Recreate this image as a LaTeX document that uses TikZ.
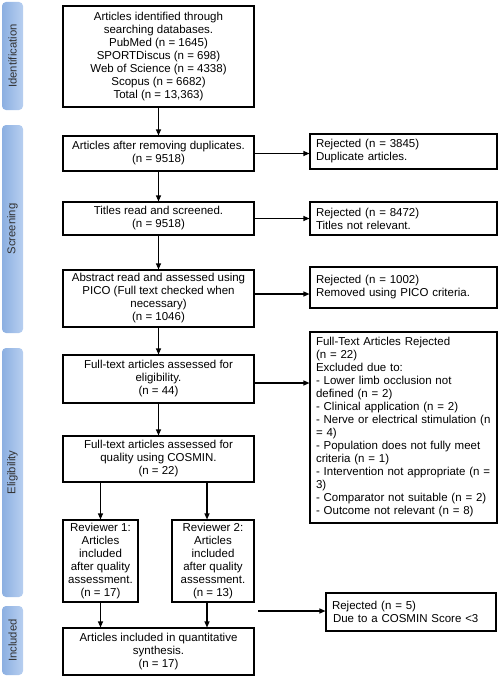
\documentclass[tikz,border=0pt]{standalone}
\usepackage{fontspec}
\setmainfont{Liberation Sans}
\usetikzlibrary{arrows.meta}
\definecolor{bartop}{HTML}{B7CFF0}
\definecolor{barbot}{HTML}{8CAFE1}
\definecolor{bartext}{HTML}{333333}
\newcommand{\fsmain}{\fontsize{11.5}{13}\selectfont}
\newcommand{\fsside}{\fontsize{11.3}{13}\selectfont}
\tikzset{
  mbox/.style={draw, line width=1.1pt, align=center, minimum width=191pt, inner sep=1pt, font=\fsmain},
  rbox/.style={draw, line width=1.1pt, align=left, minimum width=187pt, text width=175pt, inner xsep=6pt, inner ysep=1pt, font=\fsmain},
  sidebar/.style={rotate=90, rounded corners=4pt, left color=barbot, right color=bartop, minimum height=21pt, inner sep=0pt, text=bartext, font=\fsside},
  arr/.style={line width=1.1pt, -{Triangle[length=6pt,width=5pt]}}
}
\begin{document}
\begin{tikzpicture}[x=1pt,y=-1pt]
\useasboundingbox (0,0) rectangle (498,677);
% side bars
\node[sidebar, minimum width=108pt] (sid) at (12.5,56) {Identification};
\node[sidebar, minimum width=208pt] (ssc) at (12.5,229) {Screening};
\node[sidebar, minimum width=249pt] (sel) at (12.5,472.5) {Eligibility};
\node[sidebar, minimum width=69pt] (sin) at (12.5,640.5) {Included};
% main column
\node[mbox, minimum height=101pt] (b1) at (158.5,56.5) {Articles identified through\\searching databases.\\PubMed (n = 1645)\\SPORTDiscus (n = 698)\\Web of Science (n = 4338)\\Scopus (n = 6682)\\Total (n = 13,363)};
\node[mbox, minimum height=35pt] (b2) at (158.5,153.5) {Articles after removing duplicates.\\(n = 9518)};
\node[mbox, minimum height=33pt] (b3) at (158.5,218.5) {Titles read and screened.\\(n = 9518)};
\node[mbox, minimum height=57pt] (b4) at (158.5,298.5) {Abstract read and assessed using\\PICO (Full text checked when\\necessary)\\(n = 1046)};
\node[mbox, minimum height=48pt] (b5) at (158.5,379) {Full-text articles assessed for\\eligibility.\\(n = 44)};
\node[mbox, minimum height=46pt] (b6) at (158.5,459) {Full-text articles assessed for\\quality using COSMIN.\\(n = 22)};
\node[mbox, minimum width=75pt, minimum height=82pt] (r1) at (100.5,561) {Reviewer 1:\\Articles\\included\\after quality\\assessment.\\(n = 17)};
\node[mbox, minimum width=82pt, minimum height=82pt] (r2) at (213,561) {Reviewer 2:\\Articles\\included\\after quality\\assessment.\\(n = 13)};
\node[mbox, minimum height=47pt] (b7) at (158.5,651.5) {Articles included in quantitative\\synthesis.\\(n = 17)};
% right column
\node[rbox, minimum height=35pt] (rj1) at (403.5,151.5) {Rejected (n = 3845)\\Duplicate articles.};
\node[rbox, minimum height=33pt] (rj2) at (403.5,218.5) {Rejected (n = 8472)\\Titles not relevant.};
\node[rbox, minimum height=41pt] (rj3) at (403.5,287.5) {Rejected (n = 1002)\\Removed using PICO criteria.};
\node[rbox, minimum height=191pt] (rj4) at (403.5,427.5) {Full-Text Articles Rejected\\(n = 22)\\Excluded due to:\\- Lower limb occlusion not\\defined (n = 2)\\- Clinical application (n = 2)\\- Nerve or electrical stimulation (n\\= 4)\\- Population does not fully meet\\criteria (n = 1)\\- Intervention not appropriate (n =\\3)\\- Comparator not suitable (n = 2)\\- Outcome not relevant (n = 8)};
\node[rbox, minimum width=170pt, text width=158pt, inner xsep=6pt, minimum height=38pt] (rj5) at (411,612) {Rejected (n = 5)\\\hspace{1pt}Due to a COSMIN Score <3};
\coordinate (c5) at (258,611);
% vertical arrows
\draw[arr] (b1) -- (b2);
\draw[arr] (b2) -- (b3);
\draw[arr] (b3) -- (b4);
\draw[arr] (b4) -- (b5);
\draw[arr] (b5) -- (b6);
\draw[arr] (b6.south -| r1.north) -- (r1.north);
\draw[arr] ([xshift=-6pt]b6.south -| r2.north) -- ([xshift=-6pt]r2.north);
\draw[arr] (r1.south) -- (r1.south |- b7.north);
\draw[arr] ([xshift=-6pt]r2.south) -- ([xshift=-6pt]r2.south |- b7.north);
% horizontal arrows
\draw[arr] (b2.east) -- (b2.east -| rj1.west);
\draw[arr] (b3.east) -- (b3.east -| rj2.west);
\draw[arr] ([yshift=4.5pt]b4.east) -- ([yshift=4.5pt]b4.east -| rj3.west);
\draw[arr] ([yshift=-4pt]b5.east) -- ([yshift=-4pt]b5.east -| rj4.west);
\draw[arr] (c5) -- (c5 -| rj5.west);
\end{tikzpicture}
\end{document}
